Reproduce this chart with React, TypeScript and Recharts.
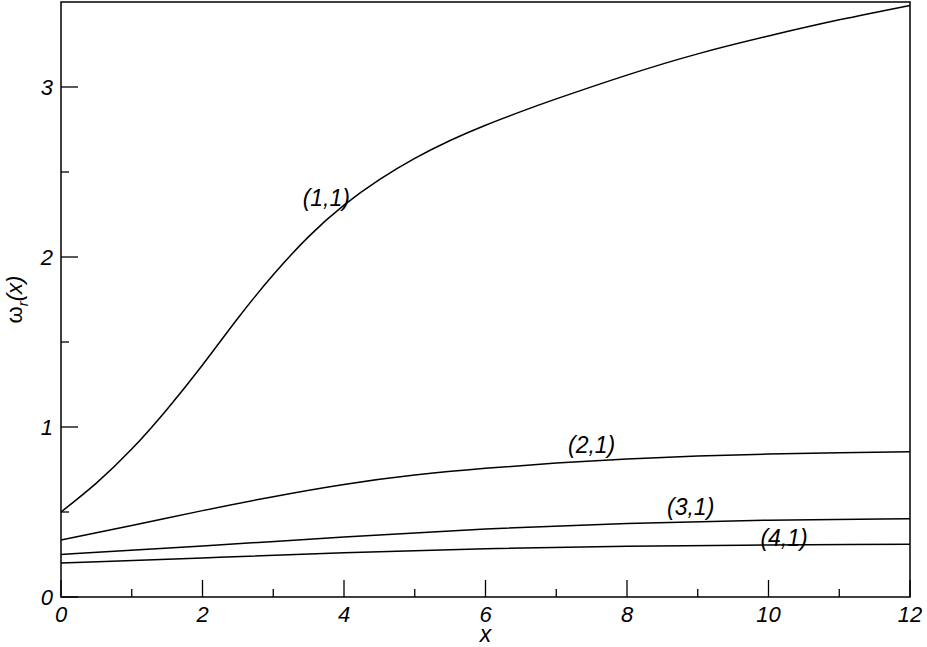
import { LineChart, Line, XAxis, YAxis, ReferenceArea, ReferenceDot } from "recharts";

// (1,1) mode
const x11 = [0, 0.5, 1, 1.5, 2, 2.5, 3, 3.5, 4, 4.5, 5, 5.5, 6, 6.5, 7, 8, 9, 10, 11, 12];
const w11 = [0.5, 0.67, 0.87, 1.105, 1.365, 1.64, 1.895, 2.12, 2.305, 2.455, 2.58, 2.685, 2.775, 2.855, 2.93, 3.07, 3.195, 3.3, 3.395, 3.48];

// (2,1) mode
const x21 = [0, 1, 2, 3, 4, 5, 6, 7, 8, 9, 10, 11, 12];
const w21 = [0.335, 0.42, 0.508, 0.59, 0.662, 0.717, 0.757, 0.788, 0.812, 0.829, 0.841, 0.849, 0.854];

// (3,1) and (4,1) modes
const x31 = [0, 2, 4, 6, 8, 10, 12];
const w31 = [0.25, 0.3, 0.353, 0.4, 0.433, 0.452, 0.461];
const x41 = [0, 2, 4, 6, 8, 10, 12];
const w41 = [0.2, 0.23, 0.26, 0.284, 0.299, 0.306, 0.31];

const xTicks = [0, 1, 2, 3, 4, 5, 6, 7, 8, 9, 10, 11, 12];
const yTicks = [0, 0.5, 1, 1.5, 2, 2.5, 3];

const curveLabels = ["(1,1)", "(2,1)", "(3,1)", "(4,1)"];
const labelX = [3.75, 7.5, 8.9, 10.22];
const labelY = [2.35, 0.894, 0.53, 0.347];

const FONT = '"Liberation Sans", Arial, Helvetica, sans-serif';

const toPoints = (xs: number[], ys: number[]) => xs.map((x, i) => ({ x, y: ys[i] }));

const series = [
  toPoints(x11, w11),
  toPoints(x21, w21),
  toPoints(x31, w31),
  toPoints(x41, w41),
];

function XTick({ x, y, payload }: any) {
  const v = payload.value;
  const major = v % 2 === 0;
  return (
    <g>
      <line x1={x} x2={x} y1={y} y2={y - (major ? 17 : 8)} stroke="#000" strokeWidth={1.3} />
      {major && (
        <text x={x} y={y + 25} textAnchor="middle" fontSize={22} fontStyle="italic" fontFamily={FONT} fill="#000">
          {v}
        </text>
      )}
    </g>
  );
}

function YTick({ x, y, payload }: any) {
  const v = payload.value;
  const major = Number.isInteger(v);
  return (
    <g>
      <line x1={x} x2={x + (major ? 17 : 8)} y1={y} y2={y} stroke="#000" strokeWidth={1.3} />
      {major && (
        <text x={x - 8} y={y + 8} textAnchor="end" fontSize={22} fontStyle="italic" fontFamily={FONT} fill="#000">
          {v}
        </text>
      )}
    </g>
  );
}

function YLabel({ viewBox }: any) {
  const cx = viewBox.x + 22;
  const cy = viewBox.y + viewBox.height / 2;
  return (
    <text
      x={cx}
      y={cy}
      transform={`rotate(-90, ${cx}, ${cy})`}
      textAnchor="middle"
      fontSize={22}
      fontFamily={FONT}
      fill="#000"
    >
      ω
      <tspan dy={6} fontSize={15} fontStyle="italic">r</tspan>
      <tspan dy={-6} fontStyle="italic">(x)</tspan>
    </text>
  );
}

export default function App() {
  return (
    <div style={{ position: "absolute", left: 0, top: 0, background: "#fff" }}>
      <LineChart width={927} height={647} margin={{ top: 2, right: 17, left: 0, bottom: 0 }}>
        <XAxis
          dataKey="x"
          type="number"
          domain={[0, 12]}
          ticks={xTicks}
          interval={0}
          height={50}
          tickSize={0}
          tickMargin={0}
          axisLine={false}
          tick={<XTick />}
          label={{ value: "x", position: "insideBottom", offset: 5, fontSize: 23, fontStyle: "italic", fontFamily: FONT, fill: "#000" }}
        />
        <YAxis
          type="number"
          domain={[0, 3.5]}
          ticks={yTicks}
          interval={0}
          width={61}
          tickSize={0}
          tickMargin={0}
          axisLine={false}
          tick={<YTick />}
          label={{ content: <YLabel /> }}
        />
        <ReferenceArea x1={0} x2={12} y1={0} y2={3.5} fill="none" fillOpacity={0} stroke="#000" strokeWidth={1.5} />
        {series.map((d, i) => (
          <Line
            key={i}
            data={d}
            dataKey="y"
            type="natural"
            stroke="#000"
            strokeWidth={1.5}
            dot={false}
            activeDot={false}
            isAnimationActive={false}
          />
        ))}
        {curveLabels.map((t, i) => (
          <ReferenceDot
            key={t}
            x={labelX[i]}
            y={labelY[i]}
            r={0}
            shape={(p: any) => (
              <text x={p.cx} y={p.cy + 8} textAnchor="middle" fontSize={23} fontStyle="italic" fontFamily={FONT} fill="#000">
                {t}
              </text>
            )}
          />
        ))}
      </LineChart>
    </div>
  );
}
